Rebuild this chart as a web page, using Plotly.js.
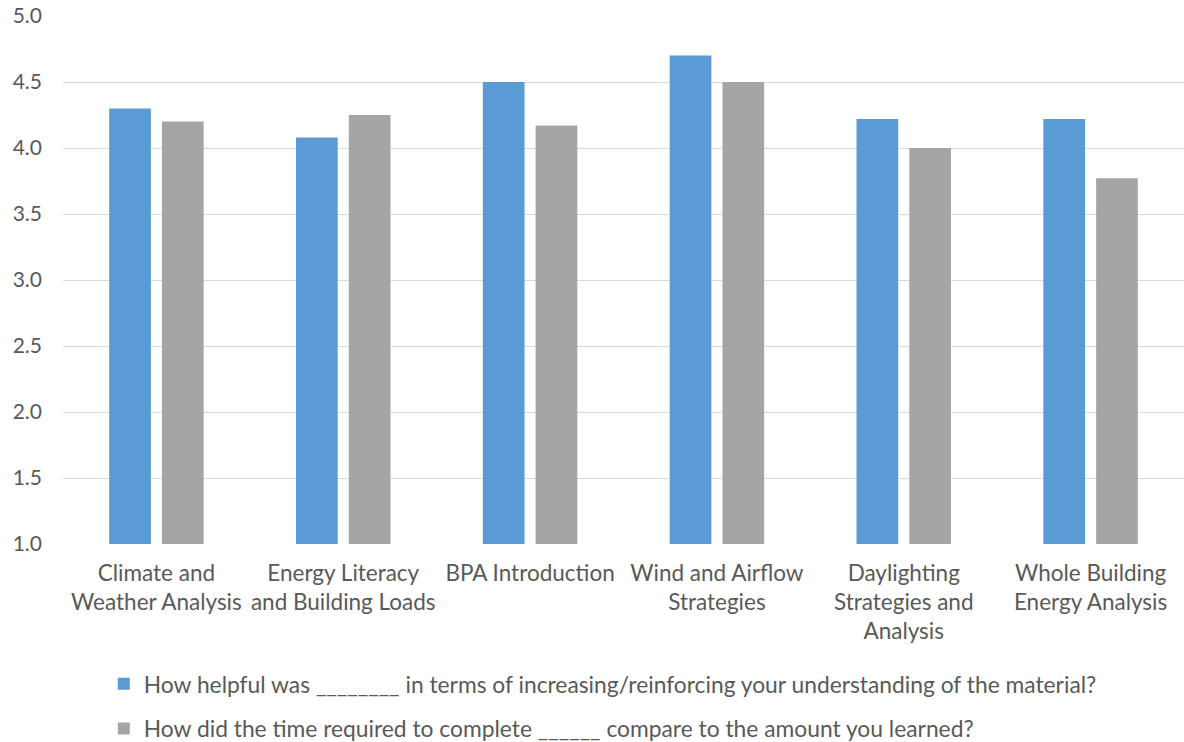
<!DOCTYPE html>
<html>
<head>
<meta charset="utf-8">
<script src="https://cdn.plot.ly/plotly-3.0.1.min.js"></script>
<style>html,body{margin:0;padding:0;background:#fff;}#chart{width:1184px;height:742px;}</style>
</head>
<body>
<div id="chart"></div>
<script>
const categories = [
  "Climate and<br>Weather Analysis",
  "Energy Literacy<br>and Building Loads",
  "BPA Introduction",
  "Wind and Airflow<br>Strategies",
  "Daylighting<br>Strategies and<br>Analysis",
  "Whole Building<br>Energy Analysis"
];
const seriesNames = [
  "How helpful was ________ in terms of increasing/reinforcing your understanding of the material?",
  "How did the time required to complete ______ compare to the amount you learned?"
];
const helpful = [4.30, 4.08, 4.50, 4.70, 4.22, 4.22];
const timeVsLearned = [4.20, 4.25, 4.17, 4.50, 4.00, 3.77];
const yTickVals = [1.0, 1.5, 2.0, 2.5, 3.0, 3.5, 4.0, 4.5, 5.0];

const FONT = "Lato, 'Open Sans', sans-serif";
const TXT = "#595959";

const data = [
  {type: "bar", name: seriesNames[0], x: categories, y: helpful,
   marker: {color: "#5B9BD5"}, legendgroup: "a", hoverinfo: "y"},
  {type: "bar", name: seriesNames[1], x: categories, y: timeVsLearned,
   marker: {color: "#A5A5A5"}, legendgroup: "b", hoverinfo: "y"}
];

const layout = {
  width: 1184, height: 742,
  margin: {l: 63, r: 0, t: 16, b: 198, autoexpand: false},
  paper_bgcolor: "#ffffff", plot_bgcolor: "#ffffff",
  font: {family: FONT, size: 20, color: TXT},
  barmode: "group",
  bargap: 0.435,
  bargroupgap: 0.21,
  showlegend: true,
  legend: {
    orientation: "v", x: 0.0364, xanchor: "left", y: -0.2244, yanchor: "top",
    font: {family: FONT, size: 22.8, color: TXT},
    tracegroupgap: 12, traceorder: "grouped"
  },
  xaxis: {
    type: "category", showgrid: false, zeroline: false, showline: false,
    ticks: "", tickfont: {family: FONT, size: 22.5, color: TXT},
    ticklabelstandoff: 13, fixedrange: true, automargin: false
  },
  yaxis: {
    range: [1, 5], tickvals: yTickVals, tickformat: ".1f",
    showgrid: true, gridcolor: "#D9D9D9", gridwidth: 1,
    zeroline: false, showline: false, ticks: "",
    tickfont: {family: FONT, size: 21, color: TXT},
    ticklabelstandoff: 20, fixedrange: true, automargin: false
  }
};

Plotly.newPlot("chart", data, layout, {displayModeBar: false, staticPlot: true});
</script>
</body>
</html>
